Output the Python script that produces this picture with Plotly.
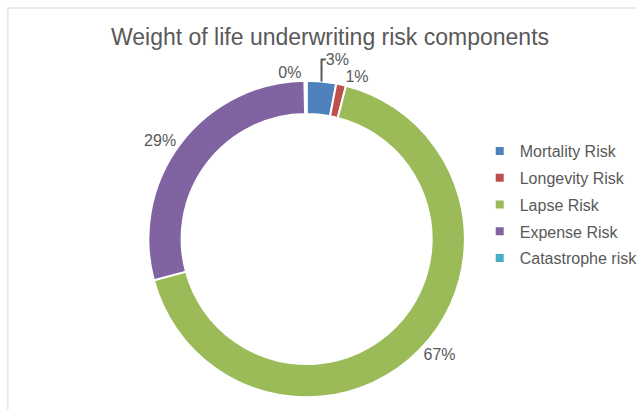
import plotly.graph_objects as go

# Share of each component in the life underwriting risk charge
components = ["Mortality Risk", "Longevity Risk", "Lapse Risk", "Expense Risk", "Catastrophe risk"]
weights = [3.0, 1.0, 66.8, 29.0, 0.2]
colors = ["#4F81BD", "#C0504D", "#9BBB59", "#8064A2", "#4BACC6"]

W, H = 643, 410
FONT = "Liberation Sans"
GREY = "#595959"
CX, CY, R = 310, 239, 160

fig = go.Figure()

fig.add_trace(go.Pie(
    labels=components,
    values=weights,
    sort=False,
    direction="clockwise",
    rotation=0,
    hole=0.79,
    marker=dict(colors=colors, line=dict(color="white", width=2)),
    textinfo="percent",
    texttemplate="%{percent:.0%}",
    textposition="outside",
    textfont=dict(family=FONT, size=16, color=GREY),
    showlegend=False,
    domain=dict(x=[(CX - R) / W, (CX + R) / W],
                y=[(H - CY - R) / H, (H - CY + R) / H]),
))

# Legend entries drawn as small square markers
for i, (name, col) in enumerate(zip(components, colors)):
    fig.add_trace(go.Scatter(
        x=[None], y=[None], mode="markers", name=name,
        marker=dict(symbol="square", size=8, color=col),
        legendgroup=f"g{i}", showlegend=True,
    ))

fig.update_layout(
    width=W, height=H,
    margin=dict(l=0, r=0, t=0, b=0),
    paper_bgcolor="white", plot_bgcolor="white",
    xaxis=dict(visible=False), yaxis=dict(visible=False),
    title=dict(text="Weight of life underwriting risk components",
               x=330 / W, xanchor="center", y=1 - 37 / H, yanchor="middle",
               font=dict(family=FONT, size=23, color=GREY)),
    legend=dict(x=485 / W, xanchor="left", y=1 - 134 / H, yanchor="top",
                font=dict(family=FONT, size=16, color=GREY),
                tracegroupgap=3, itemwidth=30,
                bgcolor="rgba(0,0,0,0)"),
    shapes=[
        dict(type="line", xref="paper", yref="paper", x0=8 / W, x1=1, y0=1 - 8 / H, y1=1 - 8 / H,
             line=dict(color="#D9D9D9", width=1)),
        dict(type="line", xref="paper", yref="paper", x0=8 / W, x1=8 / W, y0=0, y1=1 - 8 / H,
             line=dict(color="#D9D9D9", width=1)),
    ],
)

fig.write_html("out.html")
